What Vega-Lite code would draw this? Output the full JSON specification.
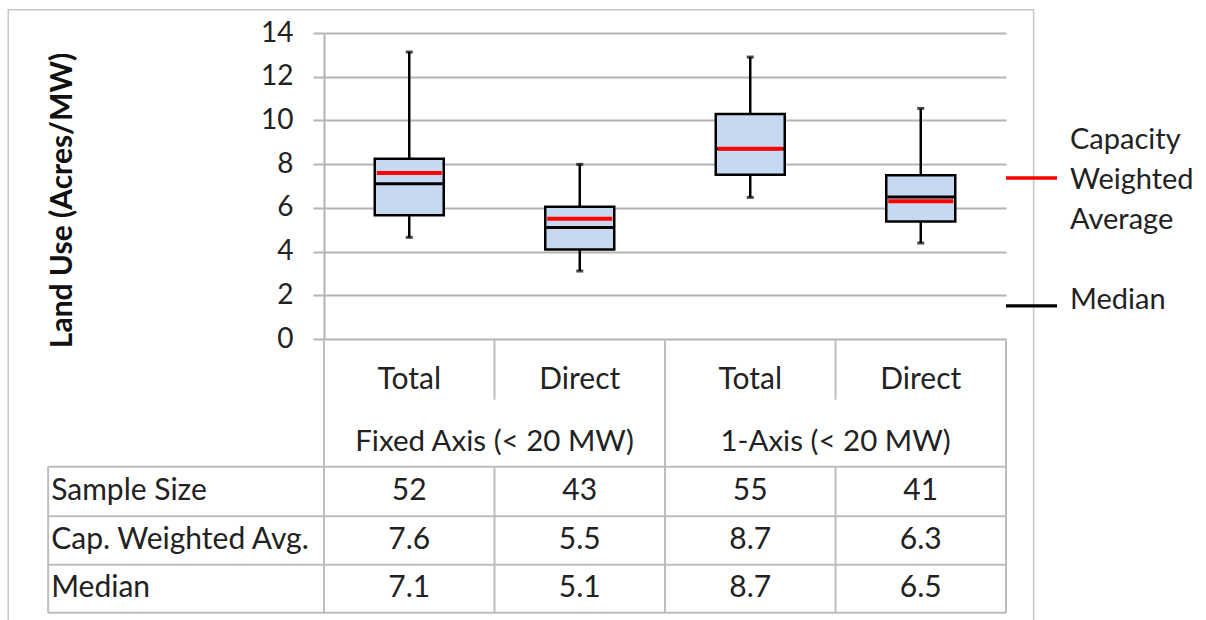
{
  "$schema": "https://vega.github.io/schema/vega-lite/v6.json",
  "width": 682,
  "height": 306,
  "autosize": "none",
  "padding": {"left": 324, "top": 33, "right": 200, "bottom": 281},
  "background": "white",
  "config": {
    "view": {"stroke": null},
    "font": "Lato",
    "text": {"font": "Lato", "color": "#222222"},
    "style": {"guide-label": {"lineHeight": 40}}
  },
  "data": {
    "values": [
      {"pos": 1, "group": "Fixed Axis (< 20 MW)", "sub": "Total", "min": 4.65, "q1": 5.66, "med": 7.1, "cwa": 7.6, "q3": 8.25, "max": 13.13, "n": 52},
      {"pos": 2, "group": "Fixed Axis (< 20 MW)", "sub": "Direct", "min": 3.11, "q1": 4.1, "med": 5.1, "cwa": 5.5, "q3": 6.05, "max": 7.99, "n": 43},
      {"pos": 3, "group": "1-Axis (< 20 MW)", "sub": "Total", "min": 6.48, "q1": 7.52, "med": 8.7, "cwa": 8.7, "q3": 10.29, "max": 12.9, "n": 55},
      {"pos": 4, "group": "1-Axis (< 20 MW)", "sub": "Direct", "min": 4.39, "q1": 5.38, "med": 6.5, "cwa": 6.3, "q3": 7.49, "max": 10.55, "n": 41}
    ]
  },
  "layer": [
    {
      "layer": [
        {
          "mark": {"type": "rule", "stroke": "black", "strokeWidth": 2.5},
          "encoding": {
            "x": {"field": "pos", "type": "quantitative", "scale": {"domain": [0.5, 4.5], "nice": false, "zero": false, "padding": 0}, "axis": null},
            "y": {
              "field": "min", "type": "quantitative",
              "scale": {"domain": [0, 14], "nice": false, "zero": false},
              "axis": {
                "title": "Land Use (Acres/MW)",
                "values": [0, 2, 4, 6, 8, 10, 12, 14],
                "grid": true, "gridColor": "#b3b3b3", "gridWidth": 2,
                "domain": true, "domainColor": "#b3b3b3", "domainWidth": 2,
                "ticks": true, "tickSize": 11, "tickColor": "#b3b3b3", "tickWidth": 2,
                "labelFont": "Lato", "labelFontSize": 28, "labelColor": "#222222", "labelPadding": 20,
                "titleFont": "Lato", "titleFontSize": 30, "titleFontWeight": "bold", "titleColor": "#111111",
                "titleX": -262, "titleY": 167, "titleAlign": "center", "titleBaseline": "middle", "titleAngle": -90
              }
            },
            "y2": {"field": "max"}
          }
        },
        {
          "data": {"values": [{}]},
          "mark": {"type": "rect", "fill": null, "stroke": "#c8c8c8", "strokeWidth": 1.5},
          "encoding": {"x": {"datum": -1.352}, "x2": {"datum": 4.662}, "y": {"datum": 15.066}, "y2": {"datum": -13.0}}
        },
        {
          "data": {"values": [{}]},
          "mark": {"type": "rule", "stroke": "#bdbdbd", "strokeWidth": 2},
          "encoding": {"x": {"datum": -1.118}, "x2": {"datum": 4.5}, "y": {"datum": -5.843}}
        },
        {
          "data": {"values": [{}]},
          "mark": {"type": "rule", "stroke": "#bdbdbd", "strokeWidth": 2},
          "encoding": {"x": {"datum": -1.118}, "x2": {"datum": 4.5}, "y": {"datum": -8.107}}
        },
        {
          "data": {"values": [{}]},
          "mark": {"type": "rule", "stroke": "#bdbdbd", "strokeWidth": 2},
          "encoding": {"x": {"datum": -1.118}, "x2": {"datum": 4.5}, "y": {"datum": -10.326}}
        },
        {
          "data": {"values": [{}]},
          "mark": {"type": "rule", "stroke": "#bdbdbd", "strokeWidth": 2},
          "encoding": {"x": {"datum": -1.118}, "x2": {"datum": 4.5}, "y": {"datum": -12.522}}
        },
        {
          "data": {"values": [{}]},
          "mark": {"type": "rule", "stroke": "#bdbdbd", "strokeWidth": 2},
          "encoding": {"x": {"datum": -1.118}, "y": {"datum": -5.843}, "y2": {"datum": -12.522}}
        },
        {
          "data": {"values": [{}]},
          "mark": {"type": "rule", "stroke": "#bdbdbd", "strokeWidth": 2},
          "encoding": {"x": {"datum": 0.5}, "y": {"datum": 0}, "y2": {"datum": -12.522}}
        },
        {
          "data": {"values": [{}]},
          "mark": {"type": "rule", "stroke": "#bdbdbd", "strokeWidth": 2},
          "encoding": {"x": {"datum": 2.5}, "y": {"datum": 0}, "y2": {"datum": -12.522}}
        },
        {
          "data": {"values": [{}]},
          "mark": {"type": "rule", "stroke": "#bdbdbd", "strokeWidth": 2},
          "encoding": {"x": {"datum": 4.5}, "y": {"datum": 0}, "y2": {"datum": -12.522}}
        },
        {
          "data": {"values": [{}]},
          "mark": {"type": "rule", "stroke": "#bdbdbd", "strokeWidth": 2},
          "encoding": {"x": {"datum": 1.5}, "y": {"datum": 0}, "y2": {"datum": -2.777}}
        },
        {
          "data": {"values": [{}]},
          "mark": {"type": "rule", "stroke": "#bdbdbd", "strokeWidth": 2},
          "encoding": {"x": {"datum": 3.5}, "y": {"datum": 0}, "y2": {"datum": -2.777}}
        },
        {
          "data": {"values": [{}]},
          "mark": {"type": "rule", "stroke": "#bdbdbd", "strokeWidth": 2},
          "encoding": {"x": {"datum": 1.5}, "y": {"datum": -5.843}, "y2": {"datum": -12.522}}
        },
        {
          "data": {"values": [{}]},
          "mark": {"type": "rule", "stroke": "#bdbdbd", "strokeWidth": 2},
          "encoding": {"x": {"datum": 3.5}, "y": {"datum": -5.843}, "y2": {"datum": -12.522}}
        },
        {
          "mark": {"type": "tick", "orient": "horizontal", "color": "black", "size": 7, "thickness": 3},
          "encoding": {"x": {"field": "pos", "type": "quantitative"}, "y": {"field": "min", "type": "quantitative"}}
        },
        {
          "mark": {"type": "tick", "orient": "horizontal", "color": "black", "size": 7, "thickness": 3},
          "encoding": {"x": {"field": "pos", "type": "quantitative"}, "y": {"field": "max", "type": "quantitative"}}
        },
        {
          "mark": {"type": "bar", "fill": "#c6d9f1", "stroke": "black", "strokeWidth": 2.5, "size": 69},
          "encoding": {"x": {"field": "pos", "type": "quantitative"}, "y": {"field": "q1", "type": "quantitative"}, "y2": {"field": "q3"}}
        },
        {
          "mark": {"type": "tick", "orient": "horizontal", "size": 67, "thickness": 3, "opacity": 1},
          "encoding": {
            "x": {"field": "pos", "type": "quantitative"},
            "y": {"field": "med", "type": "quantitative"},
            "fill": {
              "datum": "Median",
              "scale": {"domain": ["Median"], "range": ["#000000"]},
              "legend": {
                "orient": "none", "legendX": 682, "legendY": 241.5, "title": null,
                "symbolType": "M-1,0.17H1V0.29H-1Z", "symbolSize": 2601, "symbolStrokeWidth": 0,
                "labelFont": "Lato", "labelFontSize": 29, "labelColor": "#222222", "labelOffset": 13,
                "labelLimit": 0
              }
            }
          }
        },
        {
          "mark": {"type": "tick", "orient": "horizontal", "size": 65, "thickness": 4, "opacity": 1},
          "encoding": {
            "x": {"field": "pos", "type": "quantitative"},
            "y": {"field": "cwa", "type": "quantitative"},
            "color": {
              "datum": "Capacity Weighted Average",
              "scale": {"domain": ["Capacity Weighted Average"], "range": ["#ff0000"]},
              "legend": {
                "orient": "none", "legendX": 682, "legendY": 81.5, "title": null,
                "symbolType": "M-1,1.42H1V1.56H-1Z", "symbolSize": 2601, "symbolStrokeWidth": 0,
                "labelFont": "Lato", "labelFontSize": 29, "labelColor": "#222222", "labelOffset": 13,
                "labelLimit": 0,
                "labelExpr": "split(datum.label, ' ')"
              }
            }
          }
        },
        {
          "mark": {"type": "text", "fontSize": 30, "align": "center", "baseline": "middle"},
          "encoding": {
            "x": {"field": "pos", "type": "quantitative"},
            "y": {"datum": -1.86},
            "text": {"field": "sub", "type": "nominal"}
          }
        },
        {
          "transform": [{"aggregate": [{"op": "mean", "field": "pos", "as": "gpos"}], "groupby": ["group"]}],
          "mark": {"type": "text", "fontSize": 29.5, "align": "center", "baseline": "middle"},
          "encoding": {
            "x": {"field": "gpos", "type": "quantitative"},
            "y": {"datum": -4.7},
            "text": {"field": "group", "type": "nominal"}
          }
        }
      ]
    },
    {
      "transform": [{"fold": ["n", "cwa", "med"], "as": ["stat", "value"]}],
      "mark": {"type": "text", "fontSize": 30, "align": "center", "baseline": "middle"},
      "encoding": {
        "x": {"field": "pos", "type": "quantitative"},
        "y": {"field": "stat", "type": "nominal", "scale": {"type": "point", "domain": ["n", "cwa", "med"], "range": [458, 555], "padding": 0}, "axis": null},
        "text": {"field": "value", "type": "nominal"}
      }
    },
    {
      "data": {"values": [
        {"stat": "n", "label": "Sample Size"},
        {"stat": "cwa", "label": "Cap. Weighted Avg."},
        {"stat": "med", "label": "Median"}
      ]},
      "mark": {"type": "text", "fontSize": 30, "align": "left", "baseline": "middle"},
      "encoding": {
        "x": {"datum": -1.1},
        "y": {"field": "stat", "type": "nominal", "scale": {"type": "point", "domain": ["n", "cwa", "med"], "range": [458, 555], "padding": 0}, "axis": null},
        "text": {"field": "label", "type": "nominal"}
      }
    }
  ],
  "resolve": {"scale": {"y": "independent"}}
}
